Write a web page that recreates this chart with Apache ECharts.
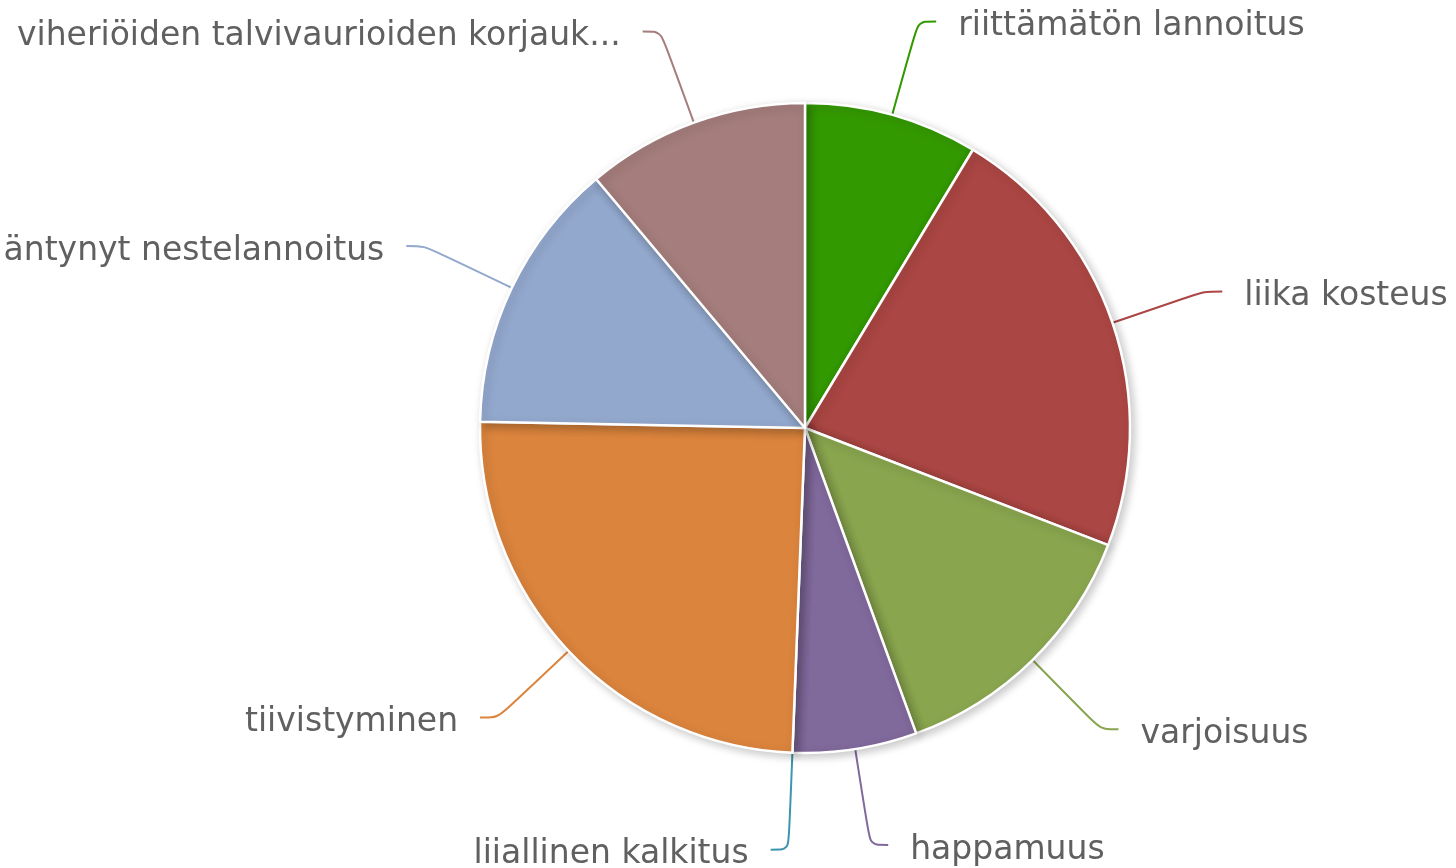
<!DOCTYPE html>
<html>
<head>
<meta charset="utf-8">
<script src="https://cdn.jsdelivr.net/npm/echarts@6/dist/echarts.min.js"></script>
<style>
  html, body { margin: 0; padding: 0; background: #fff; }
  #chart { width: 1456px; height: 868px; }
</style>
</head>
<body>
<div id="chart"></div>
<script>
// categories, clockwise from 12 o'clock
var categories = [
  'riittämätön lannoitus',
  'liika kosteus',
  'varjoisuus',
  'happamuus',
  'liiallinen kalkitus',
  'tiivistyminen',
  'äntynyt nestelannoitus',
  'viheriöiden talvivaurioiden korjauk...'
]
var counts = [7, 18, 11, 5, 0, 20, 11, 9]
var colors = ['#339900', '#AA4643', '#89A54E', '#80699B', '#3D96AE', '#DB843D', '#92A8CD', '#A47D7C']

var chart = echarts.init(document.getElementById('chart'))

chart.setOption({
  animation: false,
  color: colors,
  series: [{
    type: 'pie',
    center: [805, 428],
    radius: 325,
    startAngle: 90,
    clockwise: true,
    avoidLabelOverlap: false,
    itemStyle: {
      borderColor: '#fff',
      borderWidth: 2.5,
      shadowBlur: 10,
      shadowOffsetX: 3,
      shadowOffsetY: 3,
      shadowColor: 'rgba(0,0,0,0.22)'
    },
    label: {
      show: true,
      position: 'outside',
      formatter: '{b}',
      color: '#606060',
      fontFamily: 'DejaVu Sans',
      fontSize: 33,
      overflow: 'none',
      distanceToLabelLine: 22
    },
    // text sits a little below the end of its connector
    labelLayout: { dy: 5 },
    labelLine: {
      show: true,
      length: 97,
      length2: 18,
      smooth: 0.3,
      lineStyle: { width: 2 }
    },
    emphasis: { disabled: true },
    data: categories.map(function (name, i) {
      return { name: name, value: counts[i] }
    })
  }]
})
</script>
</body>
</html>
